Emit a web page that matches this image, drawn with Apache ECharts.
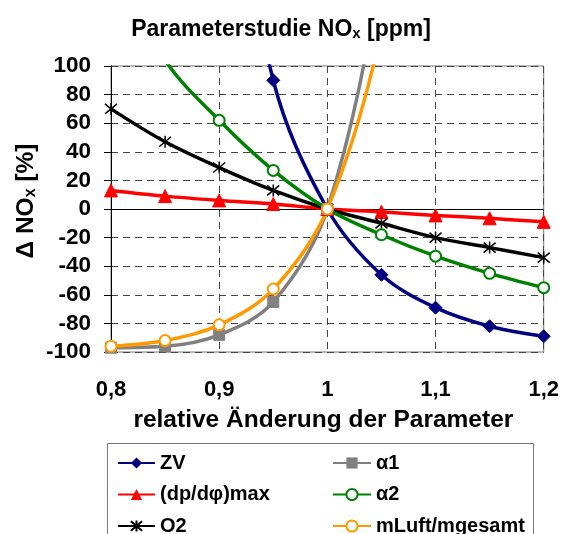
<!DOCTYPE html>
<html><head><meta charset="utf-8">
<script src="https://cdn.jsdelivr.net/npm/echarts@6/dist/echarts.min.js"></script>
<style>html,body{margin:0;padding:0;background:#fff}#c{width:562px;height:534px}</style>
</head><body><div id="c"></div>
<script>
const xValues = [0.8, 0.85, 0.9, 0.95, 1.0, 1.05, 1.1, 1.15, 1.2];
const zvValues = [1500, 700, 300, 90, 0, -46, -69, -82, -89];
const alpha1Values = [-97, -96, -88, -65, 0, 170, 450, 950, 1700];
const dpValues = [13, 9, 6, 3.5, 0, -2, -4.5, -6.5, -9];
const alpha2Values = [175, 104, 62, 27, 0, -18, -33, -45, -55];
const o2Values = [70, 47, 29, 13, 0, -10, -20, -27, -34];
const mluftValues = [-96, -92, -81, -56, 0, 125, 350, 750, 1400];
const seriesNames = ['ZV', 'α1', '(dp/dφ)max', 'α2', 'O2', 'mLuft/mgesamt'];
const yTicks = [-100, -80, -60, -40, -20, 0, 20, 40, 60, 80, 100];

const FONT = '"Liberation Sans", Arial, sans-serif';
const pair = v => xValues.map((x, i) => [x, v[i]]);
const asterisk = 'path://M0,0L10,10M10,0L0,10M5,-1L5,11';

function mk(name, data, color, symbol, size, extra) {
  return Object.assign({
    name, type: 'line', data: pair(data), smooth: 0.35,
    symbol, symbolSize: size, clip: true,
    lineStyle: { color, width: 3.5 },
    itemStyle: { color, borderColor: color },
    emphasis: { disabled: true }
  }, extra || {});
}

const legendText = { fontFamily: FONT, fontWeight: 'bold', fontSize: 20, color: '#000', lineHeight: 20 };

const chart = echarts.init(document.getElementById('c'), null, { renderer: 'canvas' });
chart.setOption({
  animation: false,
  backgroundColor: '#fff',
  textStyle: { fontFamily: FONT },
  title: {
    text: '{a|Parameterstudie NO}{s|x}{a| [ppm]}',
    left: 'center', top: 9,
    textStyle: {
      rich: {
        a: { fontFamily: FONT, fontWeight: 'bold', fontSize: 23, color: '#000', lineHeight: 27, verticalAlign: 'bottom' },
        s: { fontFamily: FONT, fontWeight: 'bold', fontSize: 15, color: '#000', lineHeight: 27, verticalAlign: 'bottom', padding: [6, 0, 0, 0] }
      }
    }
  },
  grid: {
    left: 111, right: 18, top: 66, bottom: 182,
    show: true, borderColor: '#777', borderWidth: 1, backgroundColor: 'transparent'
  },
  xAxis: {
    type: 'value', min: 0.8, max: 1.2, interval: 0.1,
    axisLine: { show: false, onZero: false },
    axisTick: { show: false },
    splitLine: { show: true, lineStyle: { color: '#444', width: 1, type: [7, 5] } },
    axisLabel: {
      margin: 27, fontFamily: FONT, fontWeight: 'bold', fontSize: 22, color: '#000',
      formatter: v => String(+v.toFixed(1)).replace('.', ',')
    },
    name: 'relative Änderung der Parameter',
    nameLocation: 'middle', nameGap: 56,
    nameTextStyle: { fontFamily: FONT, fontWeight: 'bold', fontSize: 24.5, color: '#000', padding: [0, 8, 0, 0] }
  },
  yAxis: {
    type: 'value', min: -100, max: 100, interval: 20,
    axisLine: { show: true, onZero: false, lineStyle: { color: '#000', width: 1 } },
    axisTick: { show: true, inside: false, length: 7, lineStyle: { color: '#000' } },
    splitLine: { show: true, lineStyle: { color: '#444', width: 1, type: [7, 5] } },
    axisLabel: { margin: 20, fontFamily: FONT, fontWeight: 'bold', fontSize: 22.5, color: '#000' }
  },
  legend: [
    {
      data: ['ZV', '(dp/dφ)max', 'O2'],
      orient: 'vertical', left: 117, top: 453, height: 160, itemGap: 11.5, padding: 0,
      itemWidth: 37, itemHeight: 14, selectedMode: false,
      textStyle: legendText
    },
    {
      data: ['α1', 'α2', 'mLuft/mgesamt'],
      orient: 'vertical', left: 332, top: 453, height: 160, itemGap: 11.5, padding: 0,
      itemWidth: 38, itemHeight: 14, selectedMode: false,
      textStyle: legendText
    }
  ],
  graphic: [
    { type: 'rect', shape: { x: 107.5, y: 443.5, width: 426, height: 120 },
      style: { fill: 'none', stroke: '#777', lineWidth: 1 }, silent: true, z: -1 },
    { type: 'text', x: 25, y: 201, rotation: Math.PI / 2, silent: true,
      style: {
        text: '{a|Δ NO}{s|x}{a| [%]}', align: 'center', verticalAlign: 'middle',
        rich: {
          a: { fontFamily: FONT, fontWeight: 'bold', fontSize: 24.5, fill: '#000', lineHeight: 28, verticalAlign: 'bottom' },
          s: { fontFamily: FONT, fontWeight: 'bold', fontSize: 16, fill: '#000', lineHeight: 28, verticalAlign: 'bottom', padding: [7, 0, 0, 0] }
        }
      }
    }
  ],
  series: [
    mk('(dp/dφ)max', dpValues, '#ff0000', 'triangle', 13, {
      markLine: {
        silent: true, symbol: 'none', label: { show: false },
        lineStyle: { color: '#000', width: 1, type: 'solid' },
        data: [{ yAxis: 0 }], z: 1
      }
    }),
    mk('O2', o2Values, '#000000', asterisk, 12, {
      itemStyle: { color: '#000', borderColor: '#000', borderWidth: 1.5 }
    }),
    mk('α2', alpha2Values, '#008000', 'emptyCircle', 11, {
      itemStyle: { color: '#008000', borderColor: '#008000', borderWidth: 1.3 }
    }),
    mk('ZV', zvValues, '#000080', 'diamond', 13),
    mk('α1', alpha1Values, '#808080', 'rect', 11),
    mk('mLuft/mgesamt', mluftValues, '#ff9900', 'emptyCircle', 11, {
      itemStyle: { color: '#ff9900', borderColor: '#ff9900', borderWidth: 1.3 }
    })
  ]
});
</script>
</body></html>
